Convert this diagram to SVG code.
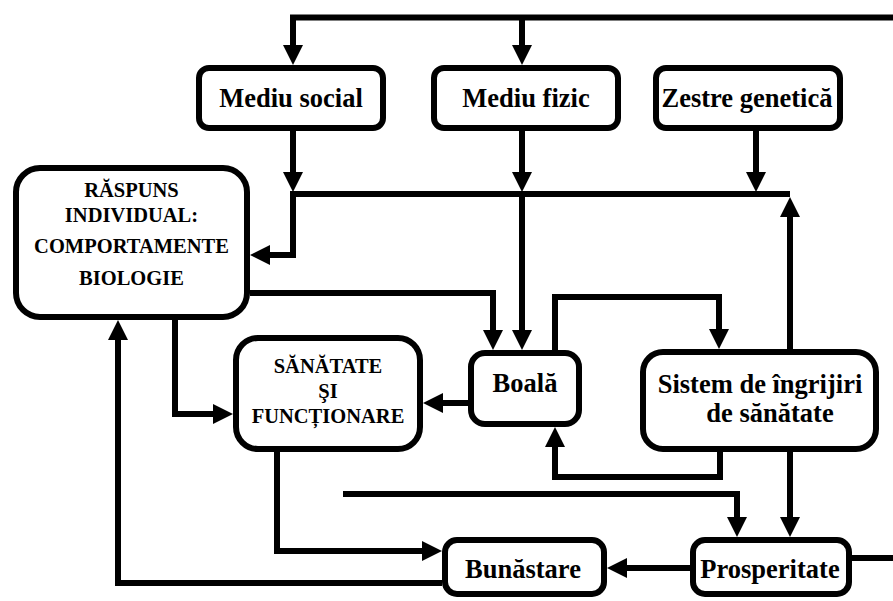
<svg xmlns="http://www.w3.org/2000/svg" width="893" height="601" viewBox="0 0 893 601">
<style>
.box{fill:#fff;stroke:#000;stroke-width:6}
.t{font-weight:bold;font-size:26.5px;text-anchor:middle;fill:#000}
.s{font-size:20.5px}
.c{fill:none;stroke:#000;stroke-width:6;stroke-linejoin:miter}
.a{marker-end:url(#ah)}
</style>
<defs>
<marker id="ah" markerUnits="userSpaceOnUse" markerWidth="20" markerHeight="20" refX="10" refY="10" orient="auto">
<path d="M0,0 L20,10 L0,20 z" fill="#000"/>
</marker>
</defs>
<rect width="893" height="601" fill="#fff"/>
<g id="connectors">
<path class="c a" d="M893,17.5 H293 V55"/>
<path class="c a" d="M522,17.5 V55"/>
<path class="c a" d="M293,131 V182"/>
<path class="c a" d="M522,131 V182"/>
<path class="c a" d="M756,131 V182"/>
<path class="c a" d="M790,194 H293 V255 H260"/>
<path class="c a" d="M522,194 V340"/>
<path class="c a" d="M790,349 V207"/>
<path class="c a" d="M250,293 H493 V340"/>
<path class="c a" d="M175,320 V414 H223"/>
<path class="c a" d="M442,583 H118 V330"/>
<path class="c a" d="M277,452 V551 H432"/>
<path class="c a" d="M468,403 H433"/>
<path class="c a" d="M555,350 V297 H719 V339"/>
<path class="c a" d="M720,452 V477 H555 V437"/>
<path class="c a" d="M343,494 H737 V527"/>
<path class="c a" d="M790,452 V527"/>
<path class="c a" d="M690,568 H617"/>
<path class="c" d="M852,558 H893"/>
</g>
<g font-family="'Liberation Serif', 'Times New Roman', 'DejaVu Serif', serif">
<g id="mediu-social"><rect class="box" x="199" y="68" width="184" height="60" rx="10"/><text class="t" x="291" y="107">Mediu social</text></g>
<g id="mediu-fizic"><rect class="box" x="434" y="68" width="184" height="60" rx="10"/><text class="t" x="526" y="107">Mediu fizic</text></g>
<g id="zestre-genetica"><rect class="box" x="656" y="68" width="184" height="60" rx="10"/><text class="t" x="747" y="107">Zestre genetică</text></g>
<g id="raspuns-individual"><rect class="box" x="16" y="168" width="231" height="149" rx="24"/>
<text class="t s" x="131.5" y="197">RĂSPUNS</text>
<text class="t s" x="131.5" y="222">INDIVIDUAL:</text>
<text class="t s" x="131.5" y="253">COMPORTAMENTE</text>
<text class="t s" x="131.5" y="285">BIOLOGIE</text></g>
<g id="sanatate"><rect class="box" x="236" y="338" width="184" height="111" rx="22"/>
<text class="t s" x="328" y="373">SĂNĂTATE</text>
<text class="t s" x="328" y="398">ŞI</text>
<text class="t s" x="328" y="423">FUNCȚIONARE</text></g>
<g id="boala"><rect class="box" x="471" y="353" width="108" height="71" rx="14"/><text class="t" x="525" y="392">Boală</text></g>
<g id="sistem"><rect class="box" x="643" y="352" width="233" height="97" rx="20"/>
<text class="t" x="760" y="393">Sistem de îngrijiri</text>
<text class="t" x="770" y="422">de sănătate</text></g>
<g id="bunastare"><rect class="box" x="445" y="540" width="159" height="54" rx="12"/><text class="t" x="523" y="578">Bunăstare</text></g>
<g id="prosperitate"><rect class="box" x="693" y="540" width="156" height="54" rx="12"/><text class="t" x="770" y="578">Prosperitate</text></g>
</g>
</svg>
